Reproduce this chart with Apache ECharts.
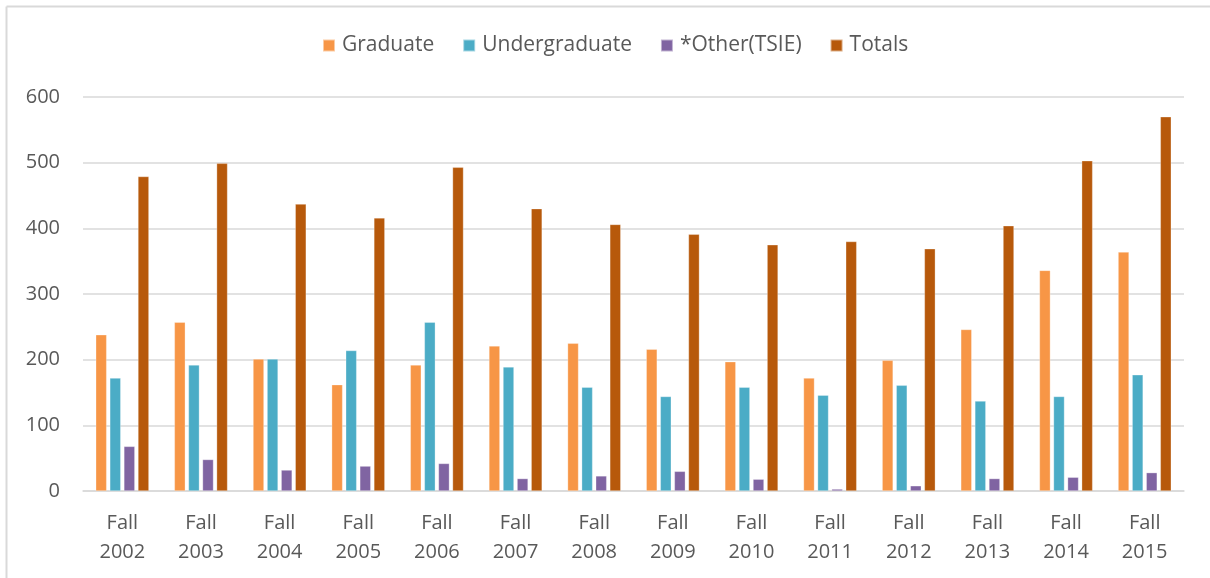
<!DOCTYPE html>
<html>
<head>
<meta charset="utf-8">
<script src="https://cdn.jsdelivr.net/npm/echarts@6/dist/echarts.min.js"></script>
<style>
html,body{margin:0;padding:0;background:#fff;}
#chart{width:1210px;height:578px;}
</style>
</head>
<body>
<div id="chart"></div>
<script>
const categories = ['Fall\n2002','Fall\n2003','Fall\n2004','Fall\n2005','Fall\n2006','Fall\n2007','Fall\n2008','Fall\n2009','Fall\n2010','Fall\n2011','Fall\n2012','Fall\n2013','Fall\n2014','Fall\n2015'];
const graduate = [238, 257, 201, 162, 192, 221, 225, 216, 197, 172, 199, 246, 336, 364];
const undergraduate = [172, 192, 201, 214, 257, 189, 158, 144, 158, 146, 161, 137, 144, 177];
const other = [68, 48, 32, 38, 42, 19, 23, 30, 18, 3, 8, 19, 21, 28];
const totals = [479, 499, 437, 416, 493, 430, 406, 391, 375, 380, 369, 404, 503, 570];
const yTicks = [0, 100, 200, 300, 400, 500, 600];

const chart = echarts.init(document.getElementById('chart'), null, {renderer: 'canvas'});
const font = '"Open Sans", "Noto Sans", sans-serif';
const textColor = '#595959';
const gridColor = '#D9D9D9';

function barSeries(name, data, color) {
  return {
    name: name,
    type: 'bar',
    data: data,
    barWidth: 11,
    barGap: '28%',
    itemStyle: {color: color, borderColor: 'rgba(255,255,255,0.5)', borderWidth: 0.6},
    emphasis: {disabled: true}
  };
}

chart.setOption({
  animation: false,
  backgroundColor: '#ffffff',
  textStyle: {fontFamily: font},
  graphic: [
    {type: 'line', shape: {x1: 6.5, y1: 6.5, x2: 1210, y2: 6.5}, style: {stroke: gridColor, lineWidth: 2}},
    {type: 'line', shape: {x1: 6.5, y1: 6.5, x2: 6.5, y2: 578}, style: {stroke: gridColor, lineWidth: 2}}
  ],
  legend: {
    top: 35,
    left: 322,
    padding: 0,
    itemWidth: 12,
    itemHeight: 12,
    itemGap: 28,
    icon: 'rect',
    textStyle: {fontFamily: font, fontSize: 21, color: textColor, padding: [0, 0, 0, 2]},
    data: ['Graduate', 'Undergraduate', '*Other(TSIE)', 'Totals']
  },
  grid: {left: 83, right: 26, top: 97, bottom: 87, containLabel: false},
  xAxis: {
    type: 'category',
    data: categories,
    axisLine: {lineStyle: {color: gridColor, width: 1.5}},
    axisTick: {show: false},
    axisLabel: {fontFamily: font, fontSize: 20, color: textColor, lineHeight: 29, margin: 18, interval: 0}
  },
  yAxis: {
    type: 'value',
    min: yTicks[0],
    max: yTicks[yTicks.length - 1],
    interval: 100,
    axisLine: {show: false},
    axisTick: {show: false},
    splitLine: {lineStyle: {color: gridColor, width: 1.5}},
    axisLabel: {fontFamily: font, fontSize: 20, color: textColor, margin: 23}
  },
  series: [
    barSeries('Graduate', graduate, '#F79646'),
    barSeries('Undergraduate', undergraduate, '#4BACC6'),
    barSeries('*Other(TSIE)', other, '#8064A2'),
    barSeries('Totals', totals, '#B7590B')
  ]
});
</script>
</body>
</html>
